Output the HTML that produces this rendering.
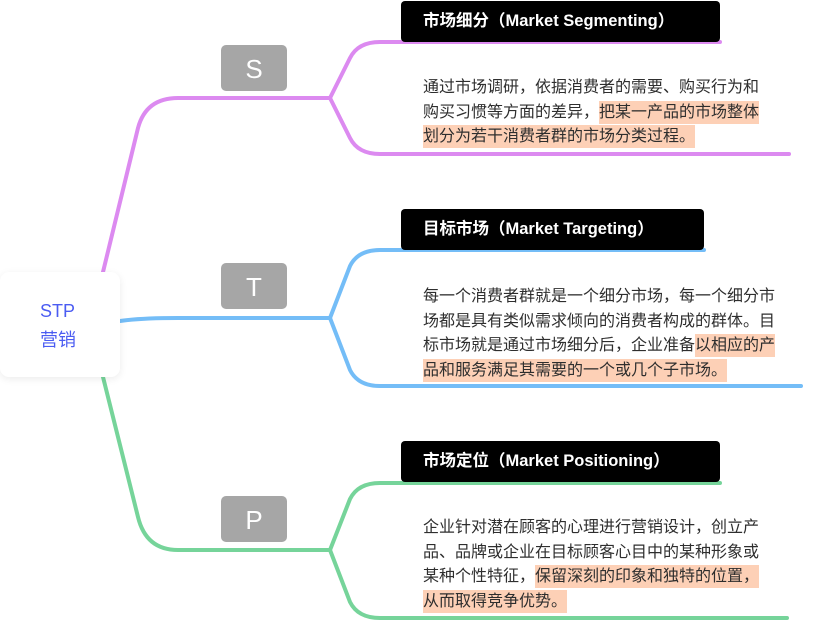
<!DOCTYPE html>
<html><head><meta charset="utf-8"><style>
body{margin:0;width:818px;height:632px;background:#fff;position:relative;overflow:hidden;font-family:"Liberation Sans","Noto Sans CJK SC",sans-serif}
.abs{position:absolute}
.title{position:absolute;background:#000;color:#fff;font-weight:bold;font-size:16.5px;border-radius:4px;height:41px;line-height:41px;padding-left:22px;box-sizing:border-box;white-space:nowrap}
.body{position:absolute;left:423px;font-size:16px;color:#2e2e2e;line-height:24.5px;white-space:nowrap}
.hl{background:#fdd0b6;padding:3px 0}
.lab{position:absolute;left:221px;width:66px;height:46px;background:#a6a6a6;border-radius:5px;color:#fff;font-size:26px;text-align:center;line-height:48px}
</style></head><body>
<svg class="abs" style="left:0;top:0" width="818" height="632">
<g fill="none" stroke-width="4" stroke-linecap="round">
<path d="M103,272 L138,128 Q146,98 178,98 L330,98" stroke="#dc8af0"/>
<path d="M330,98 L350,58 Q358,42 380,42 L720,42" stroke="#dc8af0"/>
<path d="M330,98 L350,138 Q358,154 380,154 L789,154" stroke="#dc8af0"/>
<path d="M120,321 Q140,318 178,318 L330,318" stroke="#74bdf7"/>
<path d="M330,318 L350,266 Q358,250 380,250 L704,250" stroke="#74bdf7"/>
<path d="M330,318 L350,370 Q358,386 380,386 L801,386" stroke="#74bdf7"/>
<path d="M103,377 L138,517 Q146,550 178,550 L330,550" stroke="#76d49a"/>
<path d="M330,550 L350,499 Q358,483 380,483 L720,483" stroke="#76d49a"/>
<path d="M330,550 L350,602 Q358,618 380,618 L787,618" stroke="#76d49a"/>
</g>
</svg>
<div class="abs" style="left:0;top:272px;width:120px;height:105px;background:#fff;border-radius:9px;box-shadow:0 2px 8px rgba(0,0,0,0.08)"></div>
<div class="abs" style="left:40px;top:297px;color:#4b5cf2;font-size:18px;line-height:29px">STP<br>营销</div>
<div class="lab" style="top:45px">S</div>
<div class="lab" style="top:263px">T</div>
<div class="lab" style="top:496px">P</div>
<div class="title" style="left:401px;top:1px;width:319px">市场细分（Market Segmenting）</div>
<div class="title" style="left:401px;top:209px;width:303px">目标市场（Market Targeting）</div>
<div class="title" style="left:401px;top:441px;width:319px">市场定位（Market Positioning）</div>
<div class="body" style="top:76px">通过市场调研，依据消费者的需要、购买行为和<br>购买习惯等方面的差异，<span class="hl">把某一产品的市场整体</span><br><span class="hl">划分为若干消费者群的市场分类过程。</span></div>
<div class="body" style="top:285px">每一个消费者群就是一个细分市场，每一个细分市<br>场都是具有类似需求倾向的消费者构成的群体。目<br>标市场就是通过市场细分后，企业准备<span class="hl">以相应的产</span><br><span class="hl">品和服务满足其需要的一个或几个子市场。</span></div>
<div class="body" style="top:516px">企业针对潜在顾客的心理进行营销设计，创立产<br>品、品牌或企业在目标顾客心目中的某种形象或<br>某种个性特征，<span class="hl">保留深刻的印象和独特的位置，</span><br><span class="hl">从而取得竞争优势。</span></div>
</body></html>
